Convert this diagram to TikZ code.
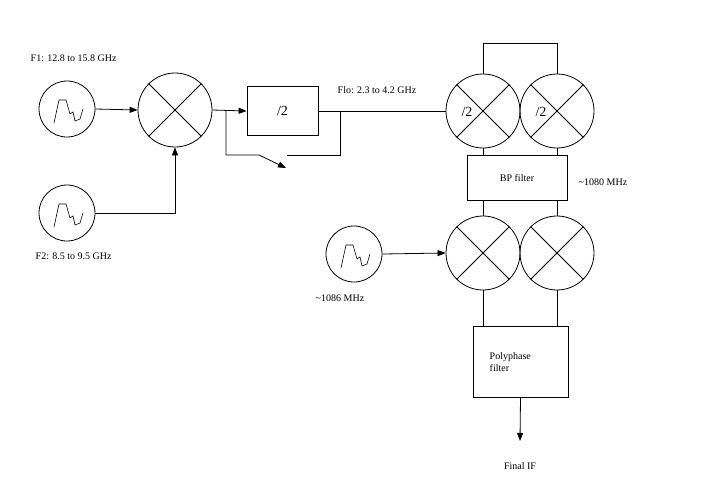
\documentclass[tikz,border=0pt]{standalone}
\usepackage{fontspec}
\setmainfont{Liberation Serif}
\usetikzlibrary{arrows.meta}
\begin{document}
\begin{tikzpicture}[x=1pt,y=-1pt,line width=0.8pt,
  osc/.style={circle,draw,minimum size=56pt,inner sep=0pt},
  mix/.style={circle,draw,minimum size=74pt,inner sep=0pt},
  blk/.style={draw,rectangle},
  lbl/.style={font=\fontsize{10}{12}\selectfont},
  arr/.style={-{Triangle[length=8pt,width=6pt]}}]
\useasboundingbox (0,0) rectangle (728,480);
\newcommand{\wave}[1]{\draw[line width=0.6pt] ($(#1)+(-20,14)$) -- ($(#1)+(-14,-10)$) -- ($(#1)+(-5,-10)$) -- ($(#1)+(0,6)$) -- ($(#1)+(4,4)$) -- ($(#1)+(6,14)$) -- ($(#1)+(11,13)$) -- ($(#1)+(14,4)$) -- ($(#1)+(17,-4)$);}
\newcommand{\cross}[1]{\draw (#1.north west) -- (#1.south east) (#1.north east) -- (#1.south west);}
% oscillators
\node[osc] (o1) at (67,109) {};
\node[osc] (o2) at (67,213) {};
\node[osc] (o3) at (354,254) {};
% mixers
\node[mix] (m1) at (175,110) {};
\node[mix] (d1) at (483,111) {};
\node[mix] (d2) at (557,111) {};
\node[mix] (m2) at (483,253) {};
\node[mix] (m3) at (557,253) {};
\foreach \n in {m1,d1,d2,m2,m3} {\cross{\n}}
\begin{scope}[shift={(0,0)}]
\usetikzlibrary{calc}
\end{scope}
% boxes
\node[blk,minimum width=71pt,minimum height=49pt,font=\fontsize{14}{16}\selectfont] (div) at (282.5,111) {/2};
\node[blk,minimum width=100pt,minimum height=45pt,lbl] (bp) at (517,178) {BP filter};
\node[blk,minimum width=95pt,minimum height=71pt] (pp) at (520.5,362) {};
\node[lbl,align=left,anchor=west] at (486,362) {Polyphase\\filter};
% labels
\node[lbl,anchor=west] at (27,58) {F1: 12.8 to 15.8 GHz};
\node[lbl,anchor=west] at (32,256) {F2: 8.5 to 9.5 GHz};
\node[lbl,anchor=west] at (334,90) {Flo: 2.3 to 4.2 GHz};
\node[lbl,anchor=west] at (575,182) {\textasciitilde 1080 MHz};
\node[lbl,anchor=west] at (312,298) {\textasciitilde 1086 MHz};
\node[lbl] (fif) at (520,466) {Final IF};
\node[lbl,font=\fontsize{14}{16}\selectfont] at (467,112) {/2};
\node[lbl,font=\fontsize{14}{16}\selectfont] at (541,112) {/2};
% connectors
\draw[arr] (o1.east) -- (m1.west);
\draw[arr] (o2.east) -| (m1.south);
\draw[arr] (m1.east) -- (div.west);
\coordinate (br) at (226,110);
\coordinate (sw) at (286,168);
\draw[arr] (br) |- (259,155) -- (sw);
\coordinate (jn) at (340,111);
\draw (div.east) -- (d1.west);
\draw (287,155) -| (jn);
\draw (d1.north) -- ++(0,-30) -| (d2.north);
\draw (d1.south) -- (d1.south |- bp.north);
\draw (d2.south) -- (d2.south |- bp.north);
\draw (bp.south -| m2.north) -- (m2.north);
\draw (bp.south -| m3.north) -- (m3.north);
\draw[arr] (o3.east) -- (m2.west);
\draw (m2.south) -- (m2.south |- pp.north);
\draw (m3.south) -- (m3.south |- pp.north);
\draw[arr] (pp.south) -- (520,441);
% waves
\foreach \n in {o1,o2,o3} {
\draw[line width=0.6pt] ([shift={(-13,14)}]\n.center) -- ([shift={(-8,-9)}]\n.center) -- ([shift={(-1,-9)}]\n.center) -- ([shift={(3,5)}]\n.center) -- ([shift={(6,3)}]\n.center) -- ([shift={(8,12)}]\n.center) -- ([shift={(13,10)}]\n.center) -- ([shift={(16,0)}]\n.center);}
\end{tikzpicture}
\end{document}
